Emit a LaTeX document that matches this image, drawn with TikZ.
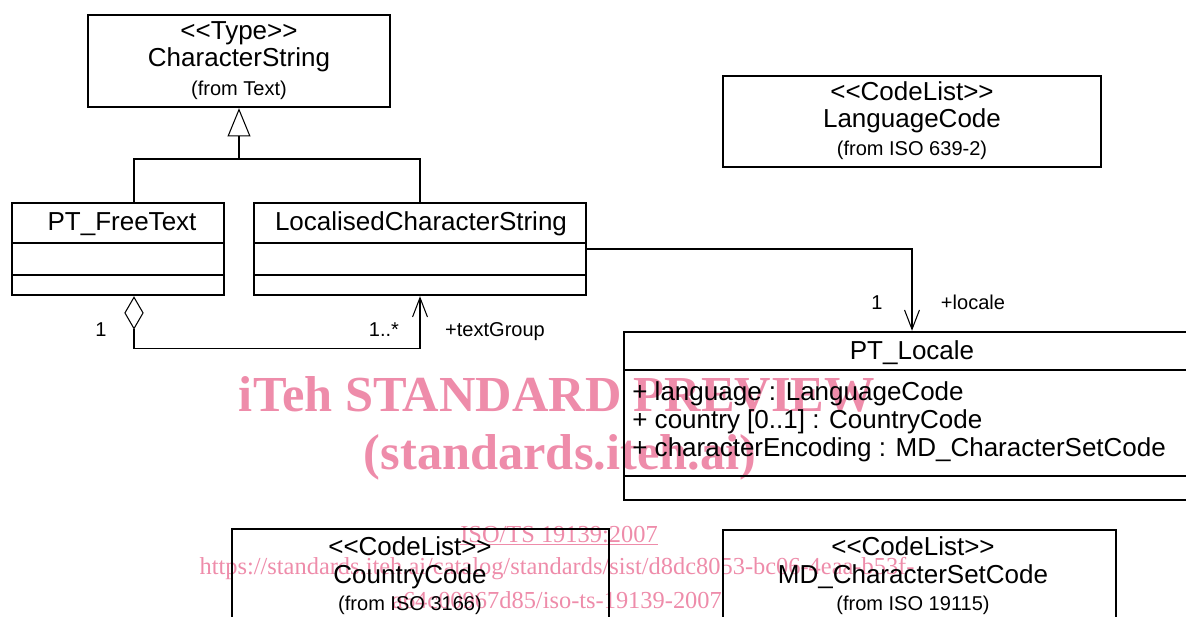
\documentclass[tikz,border=0pt]{standalone}
\usepackage{fontspec}
\setmainfont{Liberation Sans}
\newfontfamily\wmfont{Liberation Serif}
\usetikzlibrary{arrows.meta,fit}
\definecolor{wmpink}{RGB}{238,140,170}
\newcommand{\stereo}[1]{<\kern0pt<#1>\kern0pt>}
\tikzset{
  classbox/.style={draw, line width=1.4pt, inner sep=0pt},
  part/.style={line width=1.4pt},
  conn/.style={line width=0.6pt},
  bigtxt/.style={anchor=base, inner sep=0pt, font=\fontsize{14.8}{17}\selectfont},
  smalltxt/.style={anchor=base, inner sep=0pt, font=\fontsize{11.4}{13}\selectfont},
  attr/.style={bigtxt, anchor=base west},
  wmbig/.style={anchor=base, inner sep=0pt, text=wmpink, font=\wmfont\bfseries\fontsize{28.7}{31}\selectfont},
  wmsmall/.style={anchor=base, inner sep=0pt, text=wmpink, font=\wmfont\fontsize{13.9}{15}\selectfont}
}

\begin{document}
\begin{tikzpicture}[x=0.02cm, y=-0.02cm]
\useasboundingbox (0,0) rectangle (1186,617);

% watermark
\node[wmbig] (wmtitle) at (557,412) {iTeh STANDARD PREVIEW};
\node[wmbig] (wmsite) at (560,470) {(standards.iteh.ai)};
\node[wmsmall] (wmiso) at (559,542) {\underline{ISO/TS 19139:2007}};
\node[wmsmall] (wmurla) at (557,575) {https://standards.iteh.ai/catalog/standards/sist/d8dc8053-bc06-4eaa-b53f-};
\node[wmsmall] (wmurlb) at (557,608) {a64c00967d85/iso-ts-19139-2007};

% classes
\node[classbox, fit={(88,15) (390,107)}] (charstr) {};
\node[bigtxt] (charstrst) at (239,40) {\stereo{Type}};
\node[bigtxt] (charstrnm) at (239,67) {CharacterString};
\node[smalltxt] (charstrfr) at (239,96) {(from Text)};

\node[classbox, fit={(723,76) (1101,167)}] (langcode) {};
\node[bigtxt] (langcodest) at (912,101) {\stereo{CodeList}};
\node[bigtxt] (langcodenm) at (912,128) {LanguageCode};
\node[smalltxt] (langcodefr) at (912,156) {(from ISO 639-2)};

\node[classbox, fit={(12,203) (224,295)}] (ptfree) {};
\draw[part] (12,243) -- (224,243);
\draw[part] (12,275) -- (224,275);
\node[bigtxt] (ptfreenm) at (122,231) {PT\_FreeText};

\node[classbox, fit={(254,203) (586,295)}] (lcs) {};
\draw[part] (254,243) -- (586,243);
\draw[part] (254,275) -- (586,275);
\node[bigtxt] (lcsnm) at (421,231) {LocalisedCharacterString};

\node[classbox, fit={(624,332) (1200,500)}] (locale) {};
\draw[part] (624,370) -- (1200,370);
\draw[part] (624,476) -- (1200,476);
\node[bigtxt] (localenm) at (912,360) {PT\_Locale};
\node[attr] (attrlang) at (632,401) {+ language : LanguageCode};
\node[attr] (attrcountry) at (632,429) {+ country [0..1] : CountryCode};
\node[attr] (attrenc) at (632,457) {+ characterEncoding : MD\_CharacterSetCode};

\node[classbox, fit={(232,529) (609,640)}] (countrycode) {};
\node[bigtxt] (countryst) at (410,556) {\stereo{CodeList}};
\node[bigtxt] (countrynm) at (410,583) {CountryCode};
\node[smalltxt] (countryfr) at (410,610) {(from ISO 3166)};

\node[classbox, fit={(723,530) (1116,640)}] (charset) {};
\node[bigtxt] (charsetst) at (913,556) {\stereo{CodeList}};
\node[bigtxt] (charsetnm) at (913,583) {MD\_CharacterSetCode};
\node[smalltxt] (charsetfr) at (913,610) {(from ISO 19115)};

% relations
\coordinate (gen) at (239,159);
\draw[conn] ([xshift=0.32cm]ptfree.north) |- (gen) -| (lcs.north);
\draw[conn, -{Triangle[open, length=16pt, width=13pt]}] (gen) -- (charstr.south);

\draw[conn, {Diamond[open, length=19pt, width=11pt]}-{Straight Barb[length=11pt, width=8.5pt]}] ([xshift=0.32cm]ptfree.south) -- ++(0,52) -| (lcs.south);
\node[smalltxt] (aggone) at (101,337) {1};
\node[smalltxt] (aggmany) at (384,337) {1..*};
\node[smalltxt] (aggrole) at (495,337) {+textGroup};

\draw[conn, -{Straight Barb[length=11pt, width=8.5pt]}] (lcs.east) -| (locale.north);
\node[smalltxt] (locone) at (877,310) {1};
\node[smalltxt] (locrole) at (973,310) {+locale};
\end{tikzpicture}
\end{document}
